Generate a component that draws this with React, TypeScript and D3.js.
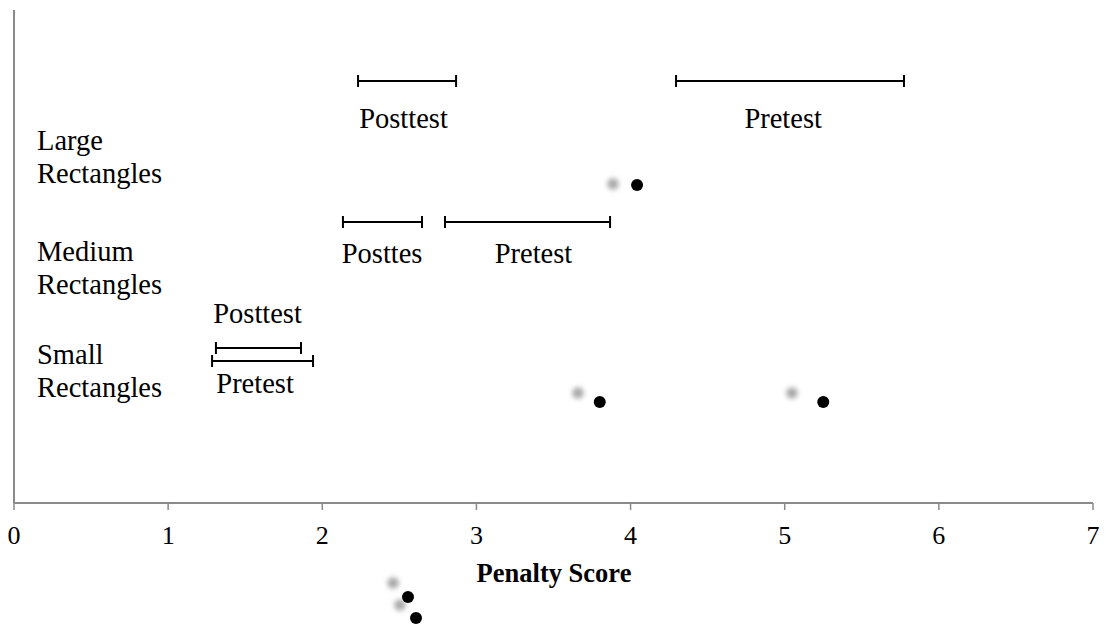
import React from "react";
import * as d3 from "d3";

// ---- data ----
const xTicks = [0, 1, 2, 3, 4, 5, 6, 7];
const categories = ["Large Rectangles", "Medium Rectangles", "Small Rectangles"];
const categoryLevel = [7.06, 4.84, 2.78];

const intervalNames = ["Posttest", "Pretest", "Posttes", "Pretest", "Posttest", "Pretest"];
const intervalLow = [2.232, 4.295, 2.134, 2.796, 1.31, 1.285];
const intervalHigh = [2.868, 5.774, 2.647, 3.867, 1.862, 1.94];
const intervalLevel = [8.44, 8.44, 5.62, 5.62, 3.1, 2.84];
const intervalLabelX = [2.527, 4.99, 2.388, 3.37, 1.58, 1.564];
const intervalLabelLevel = [7.5, 7.5, 4.8, 4.8, 3.6, 2.2];

const pointX = [4.042, 3.8, 5.25, 2.556, 2.608];
const pointY = [6.36, 2.02, 2.02, -1.88, -2.3];
const shadowX = [3.886, 3.659, 5.047, 2.459, 2.504];
const shadowY = [6.38, 2.2, 2.2, -1.6, -2.04];

const W = 1105;
const H = 627;
const FONT = '"Liberation Serif"';

export default function App() {
  const x = d3.scaleLinear().domain([0, 7]).range([14, 1093]);
  const y = d3.scaleLinear().domain([-3, 10]).range([653, 3]);
  const axisY = y(0);
  const axisColor = "#8a8a8a";

  return (
    <svg
      width={W}
      height={H}
      style={{ position: "absolute", left: 0, top: 0, background: "#fff", fontFamily: FONT }}
    >
      <defs>
        <filter id="blur" x="-1" y="-1" width="3" height="3">
          <feGaussianBlur stdDeviation="2.4" />
        </filter>
      </defs>

      {/* axes */}
      <line x1={x(0)} x2={x(0)} y1={10} y2={axisY} stroke={axisColor} strokeWidth={2} />
      <line x1={x(0)} x2={x(7)} y1={axisY} y2={axisY} stroke={axisColor} strokeWidth={2} />
      {xTicks.map((t) => (
        <g key={t}>
          <line x1={x(t)} x2={x(t)} y1={axisY} y2={axisY + 7} stroke={axisColor} strokeWidth={1.5} />
          <text x={x(t)} y={axisY + 41} textAnchor="middle" fontSize={26} fill="#000" style={{ fontFamily: FONT }}>
            {t}
          </text>
        </g>
      ))}
      <text x={554} y={582} textAnchor="middle" fontSize={26.5} fontWeight="bold" fill="#000" style={{ fontFamily: FONT }}>
        Penalty Score
      </text>

      {/* category labels */}
      {categories.map((c, i) => {
        const parts = c.split(" ");
        const base = y(categoryLevel[i]);
        return (
          <text key={c} x={37} y={base} fontSize={28.5} fill="#000" style={{ fontFamily: FONT }}>
            <tspan x={37} dy={0}>{parts[0]}</tspan>
            <tspan x={37} dy={33}>{parts[1]}</tspan>
          </text>
        );
      })}

      {/* intervals */}
      {intervalNames.map((n, i) => {
        const yy = y(intervalLevel[i]);
        const x0 = x(intervalLow[i]);
        const x1 = x(intervalHigh[i]);
        return (
          <g key={i}>
            <line x1={x0} x2={x1} y1={yy} y2={yy} stroke="#000" strokeWidth={2.2} />
            <line x1={x0} x2={x0} y1={yy - 6} y2={yy + 6} stroke="#000" strokeWidth={2} />
            <line x1={x1} x2={x1} y1={yy - 6} y2={yy + 6} stroke="#000" strokeWidth={2} />
            <text
              x={x(intervalLabelX[i])}
              y={y(intervalLabelLevel[i])}
              textAnchor="middle"
              fontSize={28.5}
              fill="#000"
              style={{ fontFamily: FONT }}
            >
              {n}
            </text>
          </g>
        );
      })}

      {/* points */}
      {shadowX.map((v, i) => (
        <circle key={"s" + i} cx={x(v)} cy={y(shadowY[i])} r={5.8} fill="#a8a8a8" filter="url(#blur)" />
      ))}
      {pointX.map((v, i) => (
        <circle key={"p" + i} cx={x(v)} cy={y(pointY[i])} r={6} fill="#000" />
      ))}
    </svg>
  );
}
